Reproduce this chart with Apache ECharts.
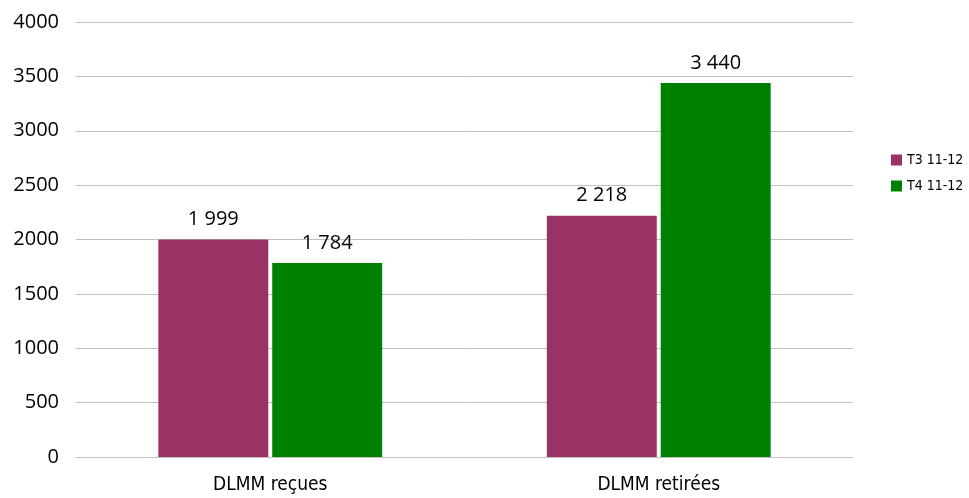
<!DOCTYPE html>
<html><head><meta charset="utf-8">
<script src="https://cdn.jsdelivr.net/npm/echarts@6/dist/echarts.min.js"></script>
<style>html,body{margin:0;padding:0;background:#fff}#c{width:969px;height:498px}</style>
</head><body><div id="c"></div>
<script>
const categories = ["DLMM reçues", "DLMM retirées"];
const seriesNames = ["T3 11-12", "T4 11-12"];
const t3Values = [1999, 2218];
const t4Values = [1784, 3440];
const colors = ["#993366", "#008000"];
const fmt = v => String(v).replace(/\B(?=(\d{3})+(?!\d))/g, " ");
const font = "'Open Sans', sans-serif";
const narrow = "'DejaVu Sans Condensed', 'Liberation Sans', sans-serif";
const chart = echarts.init(document.getElementById('c'));
chart.setOption({
  animation: false,
  textStyle: {fontFamily: font},
  grid: {left: 76, right: 116, top: 22, bottom: 41},
  legend: {
    orient: 'vertical', left: 886, top: 148, itemWidth: 11, itemHeight: 11, itemGap: 12,
    icon: 'rect', textStyle: {fontSize: 14, color: '#000', fontFamily: narrow}, data: seriesNames
  },
  xAxis: {
    type: 'category', data: categories,
    axisLine: {lineStyle: {color: '#c0c0c0'}}, axisTick: {show: false},
    axisLabel: {color: '#000', fontSize: 19, margin: 19, fontFamily: narrow}
  },
  yAxis: {
    type: 'value', min: 0, max: 4000, interval: 500,
    axisLine: {show: false}, axisTick: {show: false},
    splitLine: {lineStyle: {color: '#c0c0c0'}},
    axisLabel: {color: '#000', fontSize: 20, margin: 17, formatter: v => String(v)}
  },
  series: [
    {name: seriesNames[0], type: 'bar', data: t3Values, barWidth: '28.3%', barGap: '3.6%',
     itemStyle: {color: colors[0]},
     label: {show: true, position: 'top', distance: 10, color: '#000', fontSize: 20, formatter: p => fmt(p.value)}},
    {name: seriesNames[1], type: 'bar', data: t4Values, barWidth: '28.3%',
     itemStyle: {color: colors[1]},
     label: {show: true, position: 'top', distance: 10, color: '#000', fontSize: 20, formatter: p => fmt(p.value)}}
  ]
});
</script></body></html>
